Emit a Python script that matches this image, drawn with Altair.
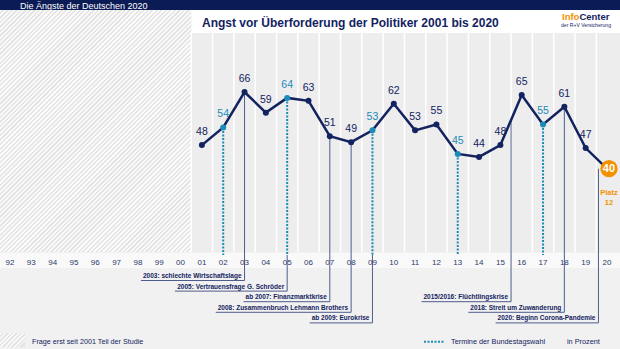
import math
import numpy as np
import pandas as pd
import altair as alt

W, H = 620, 349

# ---------------- data ----------------
years = list(range(2001, 2021))
values = [48, 54, 66, 59, 64, 63, 51, 49, 53, 62, 53, 55, 45, 44, 48, 65, 55, 61, 47, 40]
election_years = [2002, 2005, 2009, 2013, 2017]

axis_years = list(range(1992, 2021))
axis_labels = ["92", "93", "94", "95", "96", "97", "98", "99", "00", "01", "02", "03", "04",
               "05", "06", "07", "08", "09", "10", "11", "12", "13", "14", "15", "16", "17",
               "18", "19", "20"]

event_labels = [
    "2003: schlechte Wirtschaftslage",
    "2005: Vertrauensfrage G. Schröder",
    "ab 2007: Finanzmarktkrise",
    "2008: Zusammenbruch Lehmann Brothers",
    "ab 2009: Eurokrise",
    "2015/2016: Flüchtlingskrise",
    "2018: Streit um Zuwanderung",
    "2020: Beginn Corona-Pandemie",
]
event_pos = [2003, 2005, 2007, 2008, 2009, 2015.5, 2018, 2019.6]
event_rows = [0, 1, 2, 3, 4, 2, 3, 4]

highlight_year = 2020
highlight_rank = ["Platz", "12"]

header_text = "Die Ängste der Deutschen 2020"
title_text = "Angst vor Überforderung der Politiker 2001 bis 2020"
legend_hatch_text = "Frage erst seit 2001 Teil der Studie"
legend_dot_text = "Termine der Bundestagswahl"
unit_text = "in Prozent"

# ---------------- style ----------------
FONT = "Liberation Sans"
NAVY = "#13235f"
NAVY_DARK = "#0b1b55"
TEAL = "#1b8bb8"
ORANGE = "#f39200"
LINE_GREY = "#4f5d8c"
BG = "#f1f1f1"

X_DOM = [1991.531, 2020.61]
PX_PER_YEAR = W / (X_DOM[1] - X_DOM[0])
Y_REF_V, Y_REF_PIX, PX_PER_PCT = 66, 92, 2.95


def to_v(pix):
    return Y_REF_V - (pix - Y_REF_PIX) / PX_PER_PCT


XS = alt.Scale(domain=X_DOM, nice=False, zero=False)
YS = alt.Scale(domain=[to_v(H), to_v(0)], nice=False, zero=False)


def X(f):
    return alt.X(f, type="quantitative", scale=XS, axis=None)


def X2(f):
    return alt.X2(f)


def Y(f):
    return alt.Y(f, type="quantitative", scale=YS, axis=None)


BOLD_W = {" ": 278, "+": 584, ",": 278, "-": 333, ".": 278, "/": 278, ":": 333,
          "A": 722, "B": 722, "C": 722, "D": 722, "E": 667, "F": 611, "G": 778, "H": 722,
          "I": 278, "J": 556, "K": 722, "L": 611, "M": 833, "N": 722, "O": 778, "P": 667,
          "Q": 778, "R": 722, "S": 667, "T": 611, "U": 722, "V": 667, "W": 944, "X": 667,
          "Y": 667, "Z": 611, "a": 556, "b": 611, "c": 556, "d": 611, "e": 556, "f": 333,
          "g": 611, "h": 611, "i": 278, "j": 278, "k": 556, "l": 278, "m": 889, "n": 611,
          "o": 611, "p": 611, "q": 611, "r": 389, "s": 556, "t": 333, "u": 611, "v": 556,
          "w": 778, "x": 556, "y": 556, "z": 500, "ä": 556, "ö": 611, "ü": 611, "Ü": 722}


def text_width_bold(s, size):
    return sum(556 if ch.isdigit() else BOLD_W.get(ch, 556) for ch in s) * size / 1000


def hatch(w, h, period=3.2, c1="#fbfbfb", c2="#e5e5e5"):
    r = h / w
    L = w * (1 + r * r)
    dt = period * math.sqrt(2) / L
    stops = []
    t = 0.0
    while t < 1:
        a = round(min(t + dt / 2, 1), 5)
        b = round(min(t + dt, 1), 5)
        stops += [alt.GradientStop(color=c1, offset=round(t, 5)),
                  alt.GradientStop(color=c1, offset=a),
                  alt.GradientStop(color=c2, offset=a),
                  alt.GradientStop(color=c2, offset=b)]
        t += dt
    return alt.LinearGradient(gradient="linear", stops=stops, x1=0, y1=0, x2=1, y2=r)


one = pd.DataFrame({"k": [0]})


def box(x0, x1, y0, y1, **mk):
    return alt.Chart(one).mark_rect(**mk).encode(
        x=alt.value(x0), x2=alt.value(x1), y=alt.value(y0), y2=alt.value(y1))


def label(text, x, y, **mk):
    kw = dict(font=FONT)
    kw.update(mk)
    return alt.Chart(one).mark_text(text=text, **kw).encode(x=alt.value(x), y=alt.value(y))


# ---------------- tables ----------------
kinds = ["election" if y in election_years else "normal" for y in years]
kinds[years.index(highlight_year)] = "highlight"
main = pd.DataFrame({"year": years, "value": values, "kind": kinds})
pts = main[main.kind != "highlight"]

sep = pd.DataFrame({"xs": [years[0] - 0.5] + [y + 0.5 for y in years[:-1]]})

ev_rows = []
for lab, pos, row in zip(event_labels, event_pos, event_rows):
    row_pix = 276 + row * 10.6
    if pos in election_years:
        start = to_v(255)
    elif pos in years:
        start = values[years.index(pos)]
    elif abs(pos - math.floor(pos) - 0.5) < 1e-9:
        start = float(np.interp(pos, years, values))
    else:
        start = values[years.index(int(round(pos)))]
    wpx = text_width_bold(lab, 6.5)
    ev_rows.append({"pos": pos, "label": lab, "start": start,
                    "text_v": to_v(row_pix), "end": to_v(row_pix + 4.5),
                    "left": pos - (wpx + 5) / PX_PER_YEAR})
ev = pd.DataFrame(ev_rows)

el = pd.DataFrame({"year": election_years,
                   "value": [values[years.index(y)] for y in election_years],
                   "end": to_v(255)})

ax = pd.DataFrame({"year": axis_years, "lab": axis_labels})
hl = pd.DataFrame({"year": [highlight_year], "value": [values[years.index(highlight_year)]]})

# ---------------- layers ----------------
layers = []
# header
layers.append(box(0, W, 0, 10, fill=NAVY_DARK))
layers.append(label(header_text, 20, 9, fontSize=9, color="white", align="left", baseline="alphabetic"))
# hatched area (before 2001)
layers.append(box(0, 191.5, 10, 252, fill=hatch(191.5, 242)))
# title box
layers.append(box(191.5, W, 10, 33, fill="white"))
layers.append(label(title_text, 202, 26.5, fontSize=12, fontWeight="bold", color=NAVY,
                    align="left", baseline="alphabetic"))
# logo
layers.append(label("Info", 562, 19.5, fontSize=9.5, fontWeight="bold", color=ORANGE,
                    align="left", baseline="alphabetic"))
layers.append(label("Center", 562 + text_width_bold("Info", 9.5), 19.5, fontSize=9.5,
                    fontWeight="bold", color=NAVY, align="left", baseline="alphabetic"))
layers.append(label("der R+V Versicherung", 561, 26.5, fontSize=5.1, color=NAVY,
                    align="left", baseline="alphabetic"))
# plot area
layers.append(box(191.5, W, 33, 252, fill="#ededed"))
layers.append(alt.Chart(sep).mark_rule(color="white", strokeWidth=1.5).encode(
    x=X("xs"), y=alt.value(33), y2=alt.value(252)))
# year label band
layers.append(box(0, W, 253, 268, fill="#f9f9f9"))

# event lines, underlines, texts
layers.append(alt.Chart(ev).mark_rule(color=LINE_GREY, strokeWidth=1).encode(
    x=X("pos"), y=Y("start"), y2=alt.Y2("end")))
layers.append(alt.Chart(ev).mark_rule(color=LINE_GREY, strokeWidth=1).encode(
    x=X("left"), x2=X2("pos"), y=Y("end")))
layers.append(alt.Chart(ev).mark_text(font=FONT, fontSize=6.5, fontWeight="bold", color=NAVY,
                                      align="right", baseline="middle", dx=-3).encode(
    x=X("pos"), y=Y("text_v"), text="label:N"))

# election dotted lines
layers.append(alt.Chart(el).mark_rule(color=TEAL, strokeWidth=2, strokeDash=[2, 1.5]).encode(
    x=X("year"), y=Y("value"), y2=alt.Y2("end")))

# main line and points
layers.append(alt.Chart(main).mark_line(color=NAVY, strokeWidth=2.5).encode(
    x=X("year"), y=Y("value")))
color_enc = alt.Color("kind:N", scale=alt.Scale(domain=["normal", "election"], range=[NAVY, TEAL]),
                      legend=None)
layers.append(alt.Chart(pts).mark_circle(size=36, opacity=1).encode(
    x=X("year"), y=Y("value"), color=color_enc))
layers.append(alt.Chart(pts).mark_text(font=FONT, fontSize=10.5, baseline="middle", dy=-13).encode(
    x=X("year"), y=Y("value"), text="value:Q", color=color_enc))

# highlight 2020
layers.append(alt.Chart(hl).mark_circle(size=300, opacity=1, color=ORANGE, xOffset=2).encode(
    x=X("year"), y=Y("value")))
layers.append(alt.Chart(hl).mark_text(font=FONT, fontSize=11, fontWeight="bold", color="white",
                                      baseline="middle", dx=2).encode(
    x=X("year"), y=Y("value"), text="value:Q"))
layers.append(alt.Chart(hl).mark_text(font=FONT, fontSize=7.5, fontWeight="bold", color=ORANGE,
                                      baseline="middle", dx=2, text=highlight_rank[0]).encode(
    x=X("year"), y=alt.value(193)))
layers.append(alt.Chart(hl).mark_text(font=FONT, fontSize=7.5, fontWeight="bold", color=ORANGE,
                                      baseline="middle", dx=2, text=highlight_rank[1]).encode(
    x=X("year"), y=alt.value(203)))

# year axis labels
layers.append(alt.Chart(ax).mark_text(font=FONT, fontSize=8, color="#2b3a6b", baseline="middle").encode(
    x=X("year"), y=alt.value(262.5), text="lab:N"))

# legend
layers.append(box(0, 25, 333, 347, fill=hatch(25, 14)))
layers.append(label(legend_hatch_text, 32, 341.7, fontSize=7.2, color=NAVY, align="left",
                    baseline="middle"))
layers.append(alt.Chart(one).mark_rule(color=TEAL, strokeWidth=2, strokeDash=[2, 1.5]).encode(
    x=alt.value(424), x2=alt.value(445), y=alt.value(341.7)))
layers.append(label(legend_dot_text, 451, 341.7, fontSize=7.3, color=NAVY, align="left",
                    baseline="middle"))
layers.append(label(unit_text, 567, 341.7, fontSize=7.3, color=NAVY, align="left",
                    baseline="middle"))

chart = alt.layer(*layers).properties(
    width=W, height=H, padding=0, background=BG,
    autosize=alt.AutoSizeParams(type="none"),
).configure_view(stroke=None)

chart.save("out.html", embed_options={"renderer": "svg", "actions": False})
